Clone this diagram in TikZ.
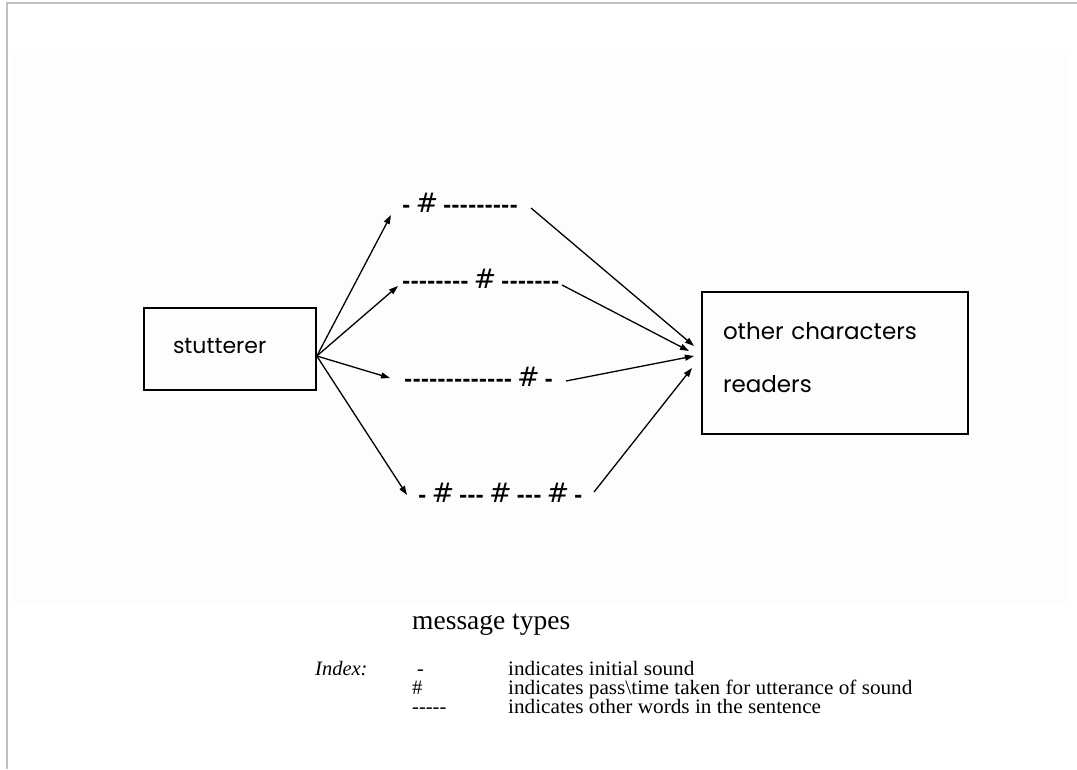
\documentclass[tikz,border=0pt]{standalone}
\usepackage{fontspec}
\setmainfont{Liberation Serif}
\newfontfamily\geo{Poppins}
\newfontfamily\msgfont{DejaVu Sans}
\usetikzlibrary{arrows.meta,calc}

% a row of separate hyphens (kerns keep them from joining into dashes)
\newcount\dashcnt
\newcommand\dashes[1]{\dashcnt=0\relax\loop\ifnum\dashcnt<#1 -\kern0pt\advance\dashcnt by 1\relax\repeat}
\newcommand\hash{{\mdseries\itshape\fontsize{27}{27}\selectfont\#}}
\newcommand\gap{\hspace{5pt}}
\newcommand\wide[1]{\scalebox{1.035}[1]{#1}}

\tikzset{
  box/.style={draw, line width=1.6pt, align=left, font=\geo\fontsize{22}{26}\selectfont},
  msg/.style={anchor=west, inner sep=0pt, font=\msgfont\bfseries\fontsize{20}{20}\selectfont},
  arr/.style={line width=1.3pt, -{Triangle[length=9pt,width=6pt]}},
  legend/.style={anchor=base west, inner sep=0pt, font=\fontsize{20.5}{20.5}\selectfont},
}

\begin{document}
\begin{tikzpicture}[x=1pt,y=-1pt]
\useasboundingbox (0,0) rectangle (1077,769);

% scanned area and page frame
\fill[black!0.7] (13,50) rectangle (1069,603);
\draw[gray!50, line width=1.5pt] (1077,3) -- (7,3) -- (7,769);

% sender and receivers
\node[box, minimum width=172pt, minimum height=82pt, text width=114pt, inner xsep=29pt] (s) at (230,349)
  {stutterer\rule[-6pt]{0pt}{6pt}};
\node[box, minimum width=266pt, minimum height=142pt, text width=224pt, inner xsep=21pt,
      font=\geo\fontsize{23}{53}\selectfont] (r) at (835,363) {other characters\\readers\rule[-12pt]{0pt}{12pt}};

% the four message types
\node[msg] (l1) at (402,203) {\dashes{1}\gap\hash\gap\dashes{9}};
\node[msg] (l2) at (402,279) {\dashes{8}\gap\hash\gap\dashes{7}};
\node[msg] (l3) at (404,377) {\dashes{13}\gap\hash\gap\dashes{1}};
\node[msg] (l4) at (418,493) {\dashes{1}\gap\hash\gap\dashes{3}\gap\hash\gap\dashes{3}\gap\hash\gap\dashes{1}};

% arrow ends beside the messages and the receiver box
\coordinate (t1) at (391,215);
\coordinate (t2) at (398,286);
\coordinate (t3) at (390,378);
\coordinate (t4) at (407,495);
\coordinate (e1) at (531,208);
\coordinate (e2) at (562,285);
\coordinate (e3) at (566,381);
\coordinate (e4) at (594,492);
\coordinate (h1) at (694,346);
\coordinate (h2) at (689,351);
\coordinate (h3) at (694,356);
\coordinate (h4) at (692,368);

\coordinate (o) at ($(s.east)+(0,7)$);
\foreach \i in {1,...,4} {
  \draw[arr] (o) -- (t\i);
  \draw[arr] (e\i) -- (h\i);
}

% caption and index
\node[anchor=base west, inner sep=0pt, font=\fontsize{27.5}{28}\selectfont] (cap) at (412,629) {message types};
\node[legend, font=\itshape\fontsize{20.5}{20.5}\selectfont] (ix) at (315,675) {Index:};
\node[legend] (k1) at (417,675) {-};
\node[legend] (k2) at (412,694) {\#};
\node[legend] (k3) at (412,713) {\dashes{5}};
\node[legend] (d1) at (508,675) {\wide{indicates initial sound}};
\node[legend] (d2) at (508,694) {\wide{indicates pass\textbackslash time taken for utterance of sound}};
\node[legend] (d3) at (508,713) {\wide{indicates other words in the sentence}};
\end{tikzpicture}
\end{document}
